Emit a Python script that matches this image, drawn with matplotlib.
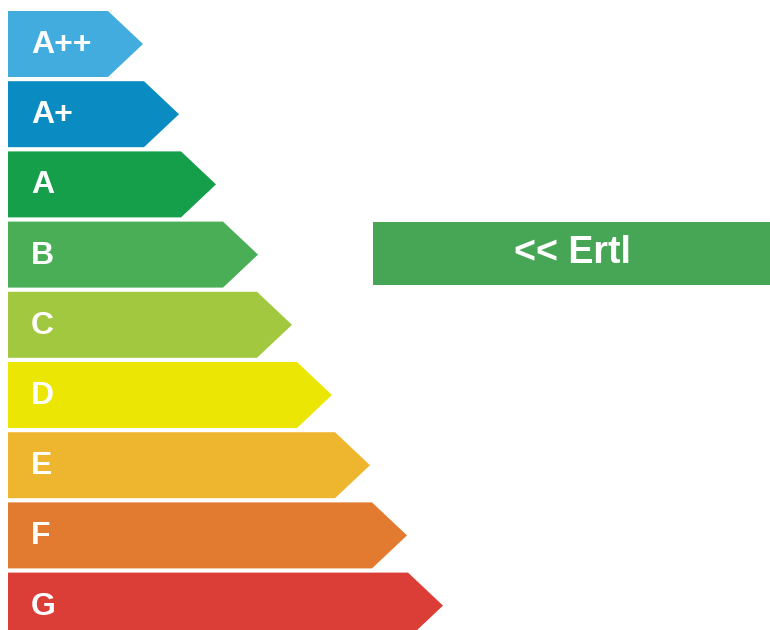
import matplotlib
matplotlib.use("Agg")
from matplotlib import pyplot as plt
from matplotlib.patches import Polygon, Rectangle

# Energieeffizienzklassen und Pfeillänge (Spitze, in Pixeln vom linken Rand)
classes = ["A++", "A+", "A", "B", "C", "D", "E", "F", "G"]
arrow_tips = [143, 179, 216, 258, 292, 332, 370, 407, 443]
colors = ["#42ACDF", "#0A8CC2", "#159F4B", "#4AAE56", "#A2C83F",
          "#ECE605", "#EEB52E", "#E27A2F", "#DB3D37"]

# Markierung der Klasse
marker_label = "<< Ertl"
marker_class = "B"

plt.rcParams['font.family'] = ['Liberation Sans', 'DejaVu Sans']

fig = plt.figure(figsize=(7.7, 6.3), dpi=100)
ax = fig.add_axes([0, 0, 1, 1])
ax.set_xlim(0, 770)
ax.set_ylim(630, 0)
ax.axis("off")

x0 = 8          # linker Rand der Pfeile
top0 = 11       # Oberkante des ersten Pfeils
height = 66     # Pfeilhöhe
step = 70.2     # Abstand zwischen den Pfeilen
tip = 35        # Tiefe der Spitze

for i, (name, xt, c) in enumerate(zip(classes, arrow_tips, colors)):
    top = top0 + i * step
    bot = top + height
    mid = (top + bot) / 2
    pts = [(x0, top), (xt - tip, top), (xt, mid), (xt - tip, bot), (x0, bot)]
    ax.add_patch(Polygon(pts, closed=True, facecolor=c, edgecolor="none"))
    ax.text(31, mid + 1, name, color="white", fontsize=23, fontweight="bold",
            ha="left", va="center")

# Kasten für die markierte Klasse
k = classes.index(marker_class)
ktop = top0 + k * step
ax.add_patch(Rectangle((373, ktop), 397, 63, facecolor="#46A655", edgecolor="none"))
ax.text(572, ktop + 31.5, marker_label, color="white", fontsize=27,
        fontweight="bold", ha="center", va="center")

fig.savefig("out.png", dpi=100)
